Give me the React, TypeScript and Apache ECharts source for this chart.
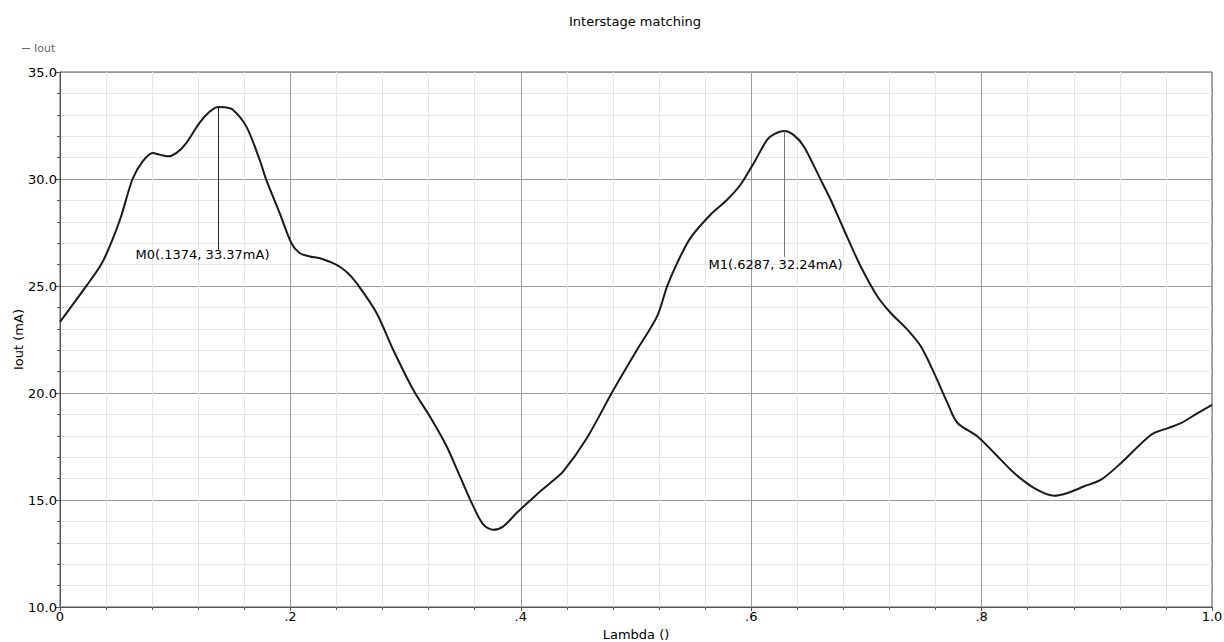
import React, { useEffect, useRef } from "react";
import * as echarts from "echarts";

const lambda = [
  0, 0.0226, 0.0357, 0.0443, 0.053, 0.063, 0.0718, 0.0805, 0.0863, 0.0936, 0.1009, 0.1096, 0.1211, 0.13, 0.1374,
  0.143, 0.15, 0.1617, 0.1733, 0.179, 0.1907, 0.2009, 0.208, 0.2168, 0.2255, 0.237, 0.2429, 0.25, 0.2574, 0.2748,
  0.2892, 0.3066, 0.3211, 0.3357, 0.3472, 0.3588, 0.3675, 0.3762, 0.3849, 0.3965, 0.4139, 0.4255, 0.437, 0.4574,
  0.4805, 0.5009, 0.5183, 0.527, 0.5357, 0.5472, 0.5646, 0.5791, 0.5907, 0.6023, 0.6139, 0.62, 0.6287, 0.637,
  0.6457, 0.6603, 0.669, 0.6805, 0.695, 0.7096, 0.7211, 0.7356, 0.7472, 0.7588, 0.7704, 0.7791, 0.7965, 0.811,
  0.8283, 0.8457, 0.8631, 0.8747, 0.8892, 0.9037, 0.9211, 0.9472, 0.9617, 0.9733, 0.9878, 1.0,
];
const iout = [
  23.32, 24.98, 26.0, 27.0, 28.25, 30.0, 30.82, 31.21, 31.14, 31.06, 31.21, 31.68, 32.62, 33.15, 33.37,
  33.35, 33.24, 32.46, 30.9, 29.97, 28.41, 27.0, 26.54, 26.38, 26.3, 26.07, 25.9, 25.6, 25.14, 23.74,
  22.02, 20.15, 18.9, 17.5, 16.1, 14.7, 13.85, 13.61, 13.77, 14.4, 15.26, 15.79, 16.35, 17.9,
  20.15, 22.02, 23.58, 24.98, 26.07, 27.24, 28.33, 29.03, 29.73, 30.75, 31.84, 32.1, 32.24, 32.05,
  31.52, 29.97, 29.03, 27.63, 25.92, 24.51, 23.74, 22.96, 22.18, 20.93, 19.53, 18.6, 17.97, 17.2,
  16.26, 15.56, 15.2, 15.33, 15.64, 15.95, 16.73, 18.05, 18.36, 18.6, 19.07, 19.45,
];

const markerNames = ["M0", "M1"];
const markerX = [0.1374, 0.6287];
const markerY = [33.37, 32.24];
const markerLineEnd = [26.69, 26.36];
const markerLabelX = [0.1237, 0.6211];
const markerLabelY = [26.45, 25.99];
const markerLineColors = ["#222", "#777"];

const xTickLabels: Record<string, string> = { "0": "0", "0.2": ".2", "0.4": ".4", "0.6": ".6", "0.8": ".8", "1": "1.0" };

const FONT = "DejaVu Sans";

export default function App() {
  const ref = useRef<HTMLDivElement>(null);
  useEffect(() => {
    if (!ref.current) return;
    const chart = echarts.init(ref.current, undefined, { renderer: "svg" });
    const data = lambda.map((x, i) => [x, iout[i]]);
    const markLines = markerX.map((x, i) => [
      { coord: [x, markerY[i]], lineStyle: { color: markerLineColors[i] } },
      { coord: [x, markerLineEnd[i]] },
    ]);
    const markPoints = markerX.map((x, i) => ({
      coord: [markerLabelX[i], markerLabelY[i]],
      value: `${markerNames[i]}(${String(x).replace(/^0/, "")}, ${markerY[i].toFixed(2)}mA)`,
    }));
    chart.setOption({
      animation: false,
      title: {
        text: "Interstage matching",
        left: 630,
        top: 10,
        textAlign: "center",
        textStyle: { fontFamily: FONT, fontSize: 13, fontWeight: "normal", color: "#000" },
      },
      legend: {
        left: 17,
        top: 38,
        itemWidth: 8,
        itemHeight: 1,
        itemGap: 4,
        textStyle: { fontFamily: FONT, fontSize: 11, color: "#666", padding: [0, 0, 0, -1] },
        data: [{ name: "Iout", icon: "rect", itemStyle: { color: "#666" } }],
      },
      grid: {
        left: 60,
        right: 12,
        top: 72,
        bottom: 35,
        show: true,
        borderColor: "#555",
        borderWidth: 1,
        backgroundColor: "#fff",
        containLabel: false,
        outerBoundsMode: "none",
      },
      xAxis: {
        type: "value",
        min: 0,
        max: 1,
        interval: 0.2,
        name: "Lambda ()",
        nameLocation: "middle",
        nameGap: 21,
        nameTextStyle: { fontFamily: FONT, fontSize: 13, color: "#000" },
        axisLine: { show: true, lineStyle: { color: "#555" } },
        axisTick: { show: true, length: 4, lineStyle: { color: "#555" } },
        minorTick: { show: true, splitNumber: 5, length: 3, lineStyle: { color: "#555" } },
        splitLine: { show: true, lineStyle: { color: "#9a9a9a", width: 1 } },
        minorSplitLine: { show: true, lineStyle: { color: "#e6e6e6", width: 1 } },
        axisLabel: {
          fontFamily: FONT,
          fontSize: 13,
          color: "#000",
          margin: 3,
          formatter: (v: number) => xTickLabels[String(Math.round(v * 10) / 10)] ?? String(v),
        },
      },
      yAxis: {
        type: "value",
        min: 10,
        max: 35,
        interval: 5,
        name: "Iout (mA)",
        nameLocation: "middle",
        nameGap: 35,
        nameMoveOverlap: false,
        nameRotate: 90,
        nameTextStyle: { fontFamily: FONT, fontSize: 13, color: "#000" },
        axisLine: { show: true, lineStyle: { color: "#555" } },
        axisTick: { show: true, length: 4, lineStyle: { color: "#555" } },
        minorTick: { show: true, splitNumber: 5, length: 3, lineStyle: { color: "#555" } },
        splitLine: { show: true, lineStyle: { color: "#9a9a9a", width: 1 } },
        minorSplitLine: { show: true, lineStyle: { color: "#e6e6e6", width: 1 } },
        axisLabel: {
          fontFamily: FONT,
          fontSize: 13,
          color: "#000",
          margin: 3,
          formatter: (v: number) => v.toFixed(1),
        },
      },
      series: [
        {
          name: "Iout",
          type: "line",
          data,
          showSymbol: false,
          smooth: 0.3,
          lineStyle: { color: "#1a1a1a", width: 2 },
          itemStyle: { color: "#666" },
          markLine: {
            silent: true,
            symbol: "none",
            label: { show: false },
            lineStyle: { color: "#222", width: 1, type: "solid" },
            data: markLines,
          },
          markPoint: {
            silent: true,
            symbol: "rect",
            symbolSize: 0,
            label: {
              show: true,
              position: "inside",
              fontFamily: FONT,
              fontSize: 13,
              color: "#000",
              formatter: (p: any) => p.value,
            },
            data: markPoints,
          },
        },
      ],
    });
    return () => chart.dispose();
  }, []);
  return <div ref={ref} style={{ width: 1224, height: 642, position: "absolute", left: 0, top: 0 }} />;
}
